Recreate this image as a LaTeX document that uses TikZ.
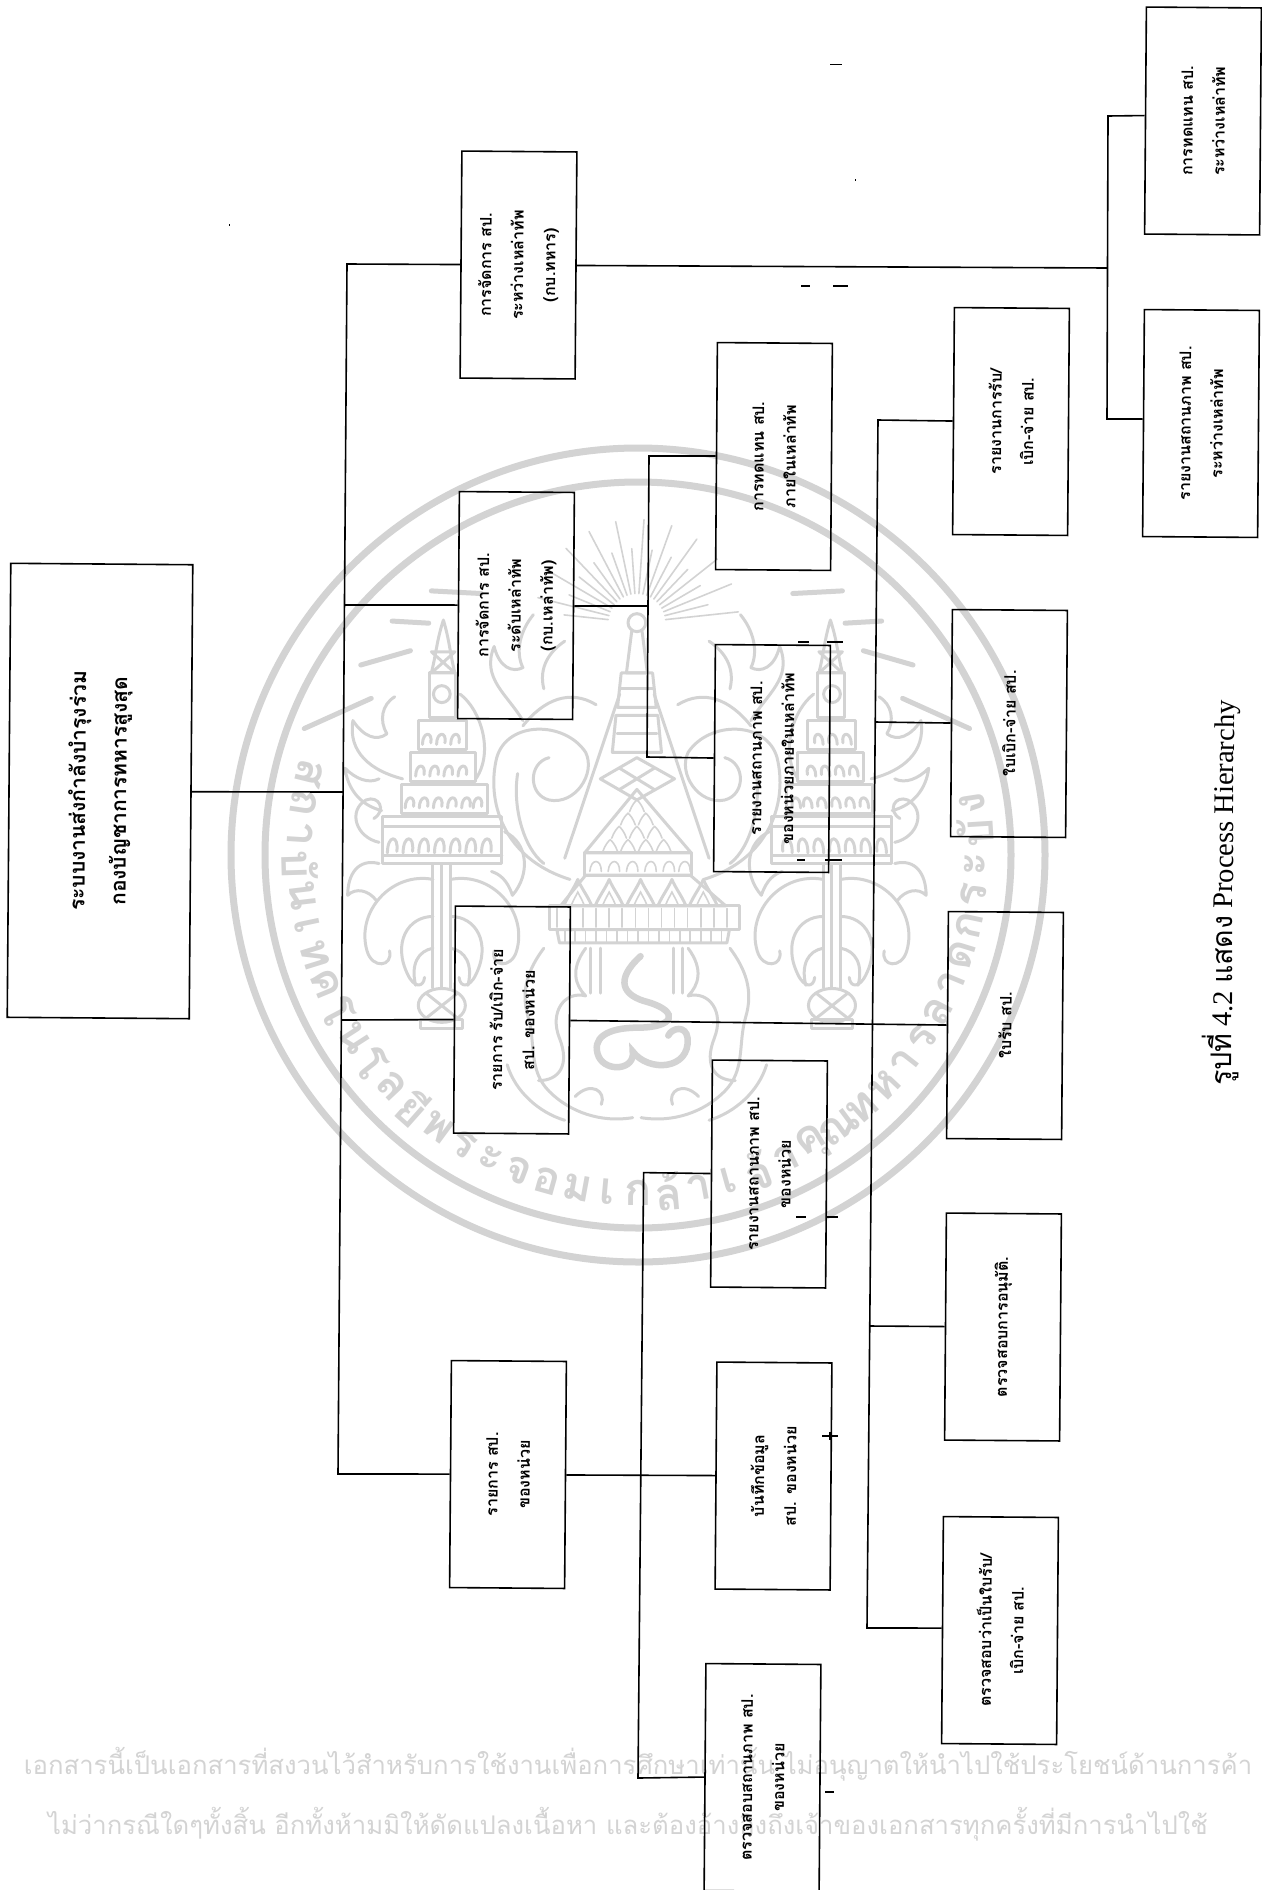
\documentclass[tikz,border=0pt]{standalone}
\usepackage{fontspec}
\setmainfont{Liberation Serif}
\newfontfamily\thaifont[Script=Thai]{Loma}
\definecolor{wmgray}{HTML}{D3D3D3}
\usetikzlibrary{calc}
\tikzset{
  boxnode/.style={draw=black,line width=1.6pt,rotate=89.55,align=center,inner sep=0pt,
    minimum width=227pt,minimum height=115pt,font=\thaifont\bfseries\fontsize{16}{32}\selectfont},
  link/.style={draw=black,line width=1.6pt,line join=miter},
  speck/.style={draw=black,line width=1.1pt},
  wmline/.style={draw=wmgray,line width=3pt,line cap=round,line join=round},
  wmthin/.style={draw=wmgray,line width=1.6pt,line cap=round},
  wmthick/.style={draw=wmgray,line width=5pt,line cap=round},
  wmletter/.style={text=wmgray,font=\thaifont\bfseries\fontsize{45}{46}\selectfont,inner sep=0pt},
  wmtext/.style={text=wmgray,font=\thaifont\fontsize{25.7}{30}\selectfont,inner sep=0pt},
}
\newcommand{\sealside}{%
  % side pagoda
  \draw[wmline] (408,340) .. controls (395,380) and (395,400) .. (385,440) -- (430,440) .. controls (420,400) and (420,380) .. (408,340);
  \draw[wmline] (385,400) -- (430,440) (430,400) -- (385,440) (385,400) -- (430,400);
  \draw[wmline] (382,440) rectangle (432,525);
  \draw[wmline] (405,480) circle (16);
  \draw[wmline] (360,530) rectangle (452,585);
  \draw[wmline] (345,590) rectangle (470,645);
  \draw[wmline] (328,650) rectangle (492,705);
  \draw[wmline] (292,712) rectangle (520,800);
  \draw[wmline] (292,730) -- (520,730) (292,785) -- (520,785);
  \foreach \sx in {378,405,432} \draw[wmline] (\sx-10,575) .. controls (\sx-10,550) and (\sx+10,550) .. (\sx+6,572);
  \foreach \sx in {365,392,419,446} \draw[wmline] (\sx-10,635) .. controls (\sx-10,610) and (\sx+10,610) .. (\sx+6,632);
  \foreach \sx in {345,372,399,426,453,475} \draw[wmline] (\sx-10,695) .. controls (\sx-10,670) and (\sx+10,670) .. (\sx+6,692);
  \foreach \sx in {312,342,372,402,432,462,492} \draw[wmline] (\sx-11,780) .. controls (\sx-11,745) and (\sx+11,745) .. (\sx+7,777);
  % stem and pot
  \draw[wmline] (388,800) -- (388,1035) (405,800) -- (405,1035) (422,800) -- (422,1035);
  \draw[wmline] (405,1068) ellipse (45 and 32);
  \draw[wmline] (375,1045) -- (435,1092) (435,1045) -- (375,1092);
  \draw[wmline] (365,1095) rectangle (445,1112);
  % leaves on the stem
  \draw[wmline] (388,830) .. controls (310,815) and (240,890) .. (262,965) .. controls (272,1000) and (312,995) .. (305,965);
  \draw[wmline] (422,830) .. controls (500,815) and (570,890) .. (548,965) .. controls (538,1000) and (498,995) .. (505,965);
  \draw[wmline] (388,900) .. controls (340,900) and (310,950) .. (340,1010) .. controls (352,1035) and (370,1035) .. (372,1015);
  \draw[wmline] (422,900) .. controls (470,900) and (500,950) .. (470,1010) .. controls (458,1035) and (440,1035) .. (438,1015);
  \draw[wmline] (388,960) .. controls (360,965) and (345,990) .. (355,1030);
  \draw[wmline] (422,960) .. controls (450,965) and (465,990) .. (455,1030);
  \draw[wmline] (285,800) .. controls (245,790) and (225,820) .. (225,860) .. controls (240,845) and (265,850) .. (280,870);
  \draw[wmline] (525,740) .. controls (570,760) and (575,820) .. (540,860) .. controls (530,830) and (515,820) .. (500,815);
  \draw[wmline] (285,760) .. controls (240,750) and (225,700) .. (260,680) .. controls (285,670) and (300,700) .. (275,715);
  % upper flames
  \draw[wmline] (330,640) .. controls (270,625) and (225,590) .. (235,530) .. controls (255,560) and (280,570) .. (300,555) .. controls (285,530) and (290,500) .. (315,485);
  \draw[wmline] (290,700) .. controls (250,690) and (225,660) .. (220,620) .. controls (240,640) and (265,650) .. (285,640);
  \draw[wmline] (470,640) .. controls (505,590) and (480,510) .. (440,480);
  % big scroll towards the spire
  \draw[wmline] (650,830) .. controls (520,790) and (490,680) .. (510,600) .. controls (530,530) and (640,530) .. (680,590) .. controls (700,630) and (660,690) .. (610,680) .. controls (570,670) and (570,610) .. (610,600);
  \draw[wmline] (600,800) .. controls (560,770) and (540,690) .. (550,630);
  \draw[wmline] (560,530) .. controls (530,480) and (480,450) .. (505,390) .. controls (515,430) and (540,440) .. (560,430) .. controls (545,400) and (555,360) .. (580,330);
  \draw[wmline] (560,540) .. controls (600,490) and (650,470) .. (700,500);
  \draw[wmline] (600,470) .. controls (590,430) and (610,400) .. (640,380);
  % broad rays
  \draw[wmthick] (310,342) -- (380,346);
  \draw[wmthick] (250,425) -- (345,398);
  \draw[wmthick] (142,545) -- (270,488);
  \draw[wmthick] (385,285) -- (480,290);
  % long lines from the sun
  \draw[wmline] (745,480) -- (640,790);
  % naga
  \draw[wmline] (680,960) .. controls (650,1000) and (660,1030) .. (680,1050) .. controls (640,1040) and (610,1080) .. (630,1130) .. controls (650,1180) and (630,1210) .. (590,1210);
  \draw[wmline] (600,960) .. controls (570,1000) and (555,1040) .. (570,1090) .. controls (585,1140) and (570,1190) .. (610,1230) .. controls (650,1270) and (710,1290) .. (770,1280);
  \draw[wmline] (660,1240) .. controls (690,1210) and (720,1230) .. (710,1255);
  \draw[wmline] (530,1180) .. controls (545,1230) and (590,1270) .. (640,1285);
  % spire pillars
  \draw[wmline] (690,960) -- (690,1045) (708,960) -- (708,1045);
}
\begin{document}
\begin{tikzpicture}[x=1pt,y=-1pt]
\useasboundingbox (0,0) rectangle (1261,1890);
% ---------- watermark seal ----------
\coordinate (sealc) at (638,855);
\draw[draw=wmgray,line width=7pt] (sealc) circle (407);
\draw[draw=wmgray,line width=7pt] (sealc) circle (373);
\foreach \c [count=\i from 0] in {ส,ถ,า,บั,น,เ,ท,ค,โ,น,โ,ล,ยี,พ,ร,ะ,จ,อ,ม,เ,ก,ล้,า,เ,จ้,า,คุ,ณ,ท,ห,า,ร,ล,า,ด,ก,ร,ะ,บั,ง}{
  \pgfmathsetmacro{\ang}{166+\i*5.2}
  \node[wmletter,rotate=\ang-270] (sl\i) at ({638+338*cos(\ang)},{855-338*sin(\ang)}) {\c};
}
\begin{scope}[shift={(230,440)},x=0.523pt,y=-0.5294pt]
  % sun
  \draw[wmline] (778,345) circle (17);
  \foreach \a [count=\k] in {6,14,...,174}{
    \pgfmathsetmacro{\rr}{isodd(\k)?195:140}
    \draw[wmthin] ({778+55*cos(\a)},{345-55*sin(\a)}) -- ({778+\rr*cos(\a)},{345-\rr*sin(\a)});
  }
  % spire
  \draw[wmline] (768,362) -- (758,440) -- (798,440) -- (788,362);
  \draw[wmline] (748,440) -- (808,440) -- (815,505) -- (741,505) -- cycle;
  \draw[wmline] (738,520) -- (818,520) -- (825,590) -- (731,590) -- cycle;
  \draw[wmline] (748,470) -- (808,470) (740,555) -- (816,555);
  \draw[wmline] (778,600) -- (850,640) -- (778,680) -- (708,640) -- cycle;
  \draw[wmline] (745,620) -- (811,660) (811,620) -- (745,660);
  % lattice cone
  \draw[wmline] (778,660) -- (882,780) -- (678,780) -- cycle;
  \foreach \row/\n in {690/1,715/2,740/3,765/4}{
    \foreach \j in {1,...,\n}{
      \pgfmathsetmacro{\sx}{778+(\j-(\n+1)/2)*34}
      \draw[wmthin] (\sx-14,\row+12) .. controls (\sx-10,\row) and (\sx-3,\row-8) .. (\sx,\row-10) .. controls (\sx+3,\row-8) and (\sx+10,\row) .. (\sx+14,\row+12);
    }
  }
  \draw[wmline] (678,780) rectangle (882,822);
  \foreach \sx in {700,735,770,805,840,870} \draw[wmthin] (\sx-12,815) .. controls (\sx-10,790) and (\sx+10,790) .. (\sx+10,815);
  % petal tier
  \draw[wmline] (632,880) -- (680,822) -- (880,822) -- (948,880) -- cycle;
  \foreach \sx in {665,725,785,845,905}{
    \draw[wmline] (\sx-26,878) .. controls (\sx-18,860) and (\sx-6,845) .. (\sx,830) .. controls (\sx+6,845) and (\sx+18,860) .. (\sx+26,878);
    \draw[wmthin] (\sx-12,878) .. controls (\sx-8,868) and (\sx-3,860) .. (\sx,854) .. controls (\sx+3,860) and (\sx+8,868) .. (\sx+12,878);
  }
  \draw[wmline] (610,880) rectangle (975,925);
  \foreach \sx in {625,650,...,960} \draw[wmthin] (\sx,885) -- (\sx,920);
  \draw[wmline] (625,925) -- (955,925) -- (950,950) -- (630,950) -- cycle;
  \foreach \sx in {640,660,...,940} \draw[wmthin] (\sx,928) -- (\sx,948);
  % numeral-like figure
  \draw[draw=wmgray,line width=6.5pt,line cap=round] (785,975) .. controls (735,1020) and (750,1050) .. (800,1062) .. controls (860,1080) and (850,1110) .. (780,1110) .. controls (720,1110) and (690,1130) .. (705,1165) .. controls (720,1195) and (775,1190) .. (770,1155) .. controls (800,1195) and (880,1190) .. (875,1130) .. controls (872,1105) and (845,1110) .. (838,1125);
  % mirrored halves
  \foreach \m in {1,-1}{
    \begin{scope}[shift={(778,0)},xscale=\m,shift={(-778,0)}]
      \sealside
    \end{scope}
  }
\end{scope}
% ---------- watermark text ----------
\node[wmtext] (wm1) at (638,1764) {เอกสารนี้เป็นเอกสารที่สงวนไว้สำหรับการใช้งานเพื่อการศึกษาเท่านั้น ไม่อนุญาตให้นำไปใช้ประโยชน์ด้านการค้า};
\node[wmtext] (wm2) at (628,1824) {ไม่ว่ากรณีใดๆทั้งสิ้น อีกทั้งห้ามมิให้ดัดแปลงเนื้อหา และต้องอ้างอิงถึงเจ้าของเอกสารทุกครั้งที่มีการนำไปใช้};
% ---------- boxes ----------
\node[boxnode,minimum width=454pt,minimum height=182pt,font=\thaifont\bfseries\fontsize{21}{41}\selectfont] (root) at (100,791) {ระบบงานส่งกำลังบำรุงร่วม\\กองบัญชาการทหารสูงสุด};
\node[boxnode] (boxa) at (518.5,265) {การจัดการ สป.\\ระหว่างเหล่าทัพ\\(กบ.ทหาร)};
\node[boxnode] (boxb) at (516,605.5) {การจัดการ สป.\\ระดับเหล่าทัพ\\(กบ.เหล่าทัพ)};
\node[boxnode] (boxc) at (512,1020) {รายการ รับ/เบิก-จ่าย\\สป. ของหน่วย};
\node[boxnode] (boxd) at (508,1474.5) {รายการ สป.\\ของหน่วย};
\node[boxnode] (tone) at (1203,121) {การทดแทน สป.\\ระหว่างเหล่าทัพ};
\node[boxnode] (ttwo) at (1201,423.5) {รายงานสถานภาพ สป.\\ระหว่างเหล่าทัพ};
\node[boxnode] (mthree) at (774,456.5) {การทดแทน สป.\\ภายในเหล่าทัพ};
\node[boxnode] (mtwo) at (772,758.5) {รายงานสถานภาพ สป.\\ของหน่วยภายในเหล่าทัพ};
\node[boxnode] (mone) at (769,1174) {รายงานสถานภาพ สป.\\ของหน่วย};
\node[boxnode] (mzero) at (773.5,1476) {บันทึกข้อมูล\\สป. ของหน่วย};
\node[boxnode] (mlast) at (762.5,1777.5) {ตรวจสอบสถานภาพ สป.\\ของหน่วย};
\node[boxnode] (rthree) at (1011,421.5) {รายงานการรับ/\\เบิก-จ่าย สป.};
\node[boxnode] (rtwo) at (1009,723.5) {ใบเบิก-จ่าย สป.};
\node[boxnode] (rone) at (1005,1025.5) {ใบรับ สป.};
\node[boxnode] (rcheck) at (1003,1327) {ตรวจสอบการอนุมัติ.};
\node[boxnode] (rform) at (1000,1630.5) {ตรวจสอบว่าเป็นใบรับ/\\เบิก-จ่าย สป.};
% ---------- bus points ----------
\coordinate (busat) at (347,264);
\coordinate (busab) at (338,1474);
\coordinate (busaroot) at (343,792);
\coordinate (busabox) at (344.5,605);
\coordinate (busacox) at (341.4,1020);
\coordinate (busbt) at (878,420);
\coordinate (busbb) at (867,1628);
\coordinate (busbtwo) at (875.3,722);
\coordinate (busbchk) at (869.7,1326);
\coordinate (busct) at (649,456);
\coordinate (buscb) at (647,757);
\coordinate (buscm) at (648,606);
\coordinate (busdt) at (643.6,1172.6);
\coordinate (busdb) at (638,1778);
\coordinate (brkt) at (1108,116);
\coordinate (brkm) at (1107.7,268);
\coordinate (brkb) at (1107,419);
% ---------- connectors ----------
\draw[link] (root.south) -- (busaroot);
\draw[link] (boxa.north) -- (busat) -- (busab) -- (boxd.north);
\draw[link] (boxb.north) -- (busabox);
\draw[link] (boxc.north) -- (busacox);
\draw[link] (boxa.south) -- (brkm);
\draw[link] ([yshift=5pt]tone.north) -- (brkt) -- (brkb) -- ([yshift=4pt]ttwo.north);
\draw[link] (boxb.south) -- (buscm);
\draw[link] (mthree.north) -- (busct) -- (buscb) -- (mtwo.north);
\draw[link] (boxc.south) -- (rone.north);
\draw[link] (rthree.north) -- (busbt) -- (busbb) -- ([yshift=2pt]rform.north);
\draw[link] (rtwo.north) -- (busbtwo);
\draw[link] (rcheck.north) -- (busbchk);
\draw[link] (boxd.south) -- (mzero.north);
\draw[link] (mone.north) -- (busdt) -- (busdb) -- (mlast.north);
% ---------- caption ----------
\node[rotate=89.55,inner sep=0pt,font=\fontsize{28.5}{30}\selectfont] (caption) at (1222,893) {{\thaifont รูปที่} 4.2 {\thaifont แสดง} Process Hierarchy};
% ---------- scan specks ----------
\draw[speck] (830,64.5) -- (842,64.5);
\draw[speck] (855,180) -- (856,180);
\draw[speck] (229,225) -- (230,225);
\draw[speck] (801,286) -- (810,286) (833,286) -- (848,286);
\draw[speck] (798,642) -- (809,642) (827,642) -- (843,642);
\draw[speck] (797,860) -- (805,860) (825,860) -- (842,860);
\draw[speck] (796,1217) -- (806,1217) (827,1217) -- (838,1217);
\draw[speck] (822,1436) -- (838,1436) (830,1432) -- (830,1440);
\draw[speck] (825,1792) -- (834,1792);
\end{tikzpicture}
\end{document}
